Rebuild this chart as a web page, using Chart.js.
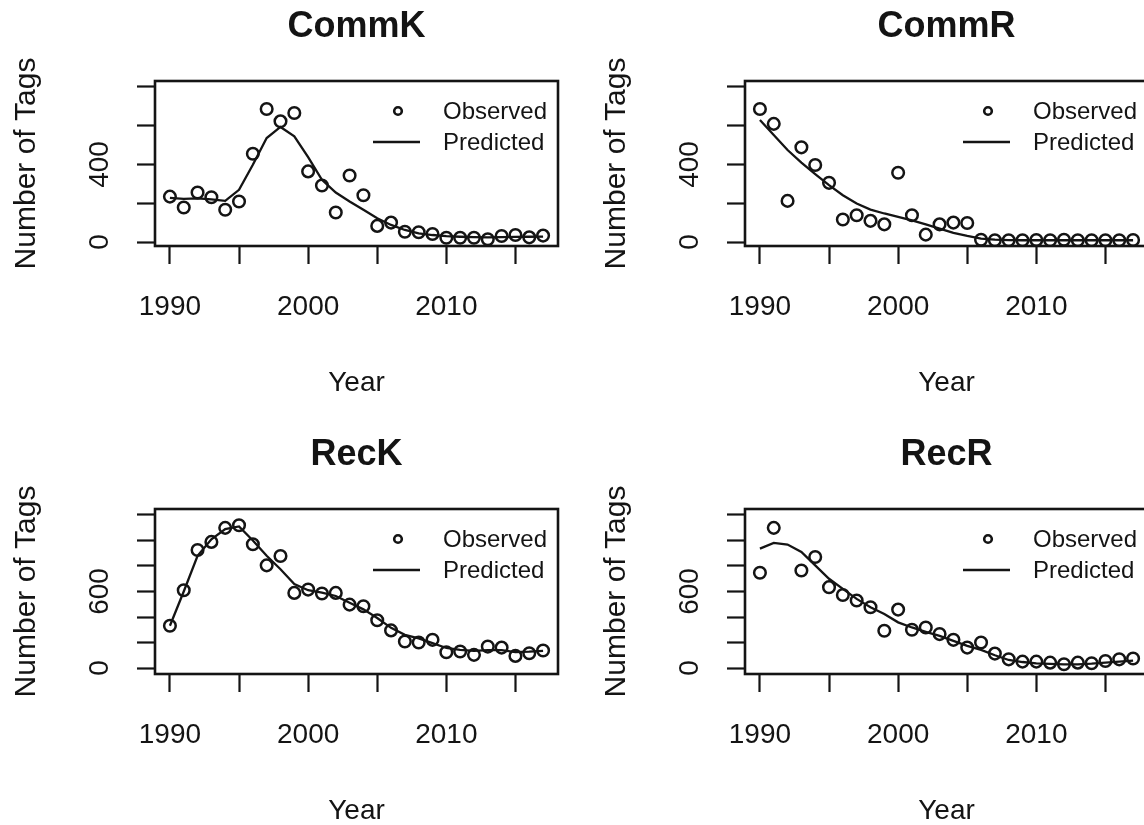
<!DOCTYPE html>
<html>
<head>
<meta charset="utf-8">
<title>Tag returns by fleet</title>
<script src="https://cdn.jsdelivr.net/npm/chart.js@4.4.1/dist/chart.umd.min.js"></script>
<style>
  html, body { margin: 0; padding: 0; background: #fff; width: 1144px; height: 825px; overflow: hidden; position: relative; }
  canvas { position: absolute; }
</style>
</head>
<body>
<canvas id="commK" width="713" height="412" style="left:0px;top:0px"></canvas>
<canvas id="commR" width="713" height="412" style="left:590px;top:0px"></canvas>
<canvas id="recK" width="713" height="412" style="left:0px;top:428px"></canvas>
<canvas id="recR" width="713" height="412" style="left:590px;top:428px"></canvas>
<script>
// Tag returns per year, observed vs model predicted, for each fleet
var years = [1990, 1991, 1992, 1993, 1994, 1995, 1996, 1997, 1998, 1999,
             2000, 2001, 2002, 2003, 2004, 2005, 2006, 2007, 2008, 2009,
             2010, 2011, 2012, 2013, 2014, 2015, 2016, 2017];

var commKObserved  = [234, 178, 255, 231, 166, 209, 455, 686, 622, 665, 364, 291, 152, 343, 241, 83, 100, 53, 50, 41, 22, 22, 22, 14, 31, 36, 24, 33];
var commKPredicted = [228, 222, 225, 220, 212, 269, 398, 536, 593, 545, 438, 321, 255, 209, 166, 122, 88, 62, 45, 36, 30, 27, 25, 24, 25, 26, 27, 28];

var commRObserved  = [686, 609, 212, 488, 397, 305, 116, 138, 109, 91, 357, 138, 38, 91, 100, 98, 12, 9, 9, 9, 10, 9, 12, 9, 9, 9, 9, 10];
var commRPredicted = [629, 552, 474, 409, 350, 293, 241, 198, 167, 147, 129, 112, 91, 69, 47, 31, 17, 12, 10, 9, 9, 9, 9, 9, 9, 9, 9, 9];

var recKObserved  = [331, 610, 926, 989, 1099, 1120, 970, 805, 878, 589, 615, 584, 589, 497, 484, 374, 295, 208, 200, 221, 124, 129, 103, 168, 160, 95, 116, 137];
var recKPredicted = [331, 600, 880, 1010, 1090, 1110, 1000, 880, 775, 658, 610, 592, 565, 512, 460, 392, 315, 260, 232, 195, 157, 143, 135, 140, 140, 125, 128, 135];

var recRObserved  = [747, 1099, null, 765, 871, 634, 573, 529, 476, 292, 458, 300, 318, 266, 221, 160, 200, 113, 68, 50, 50, 42, 29, 42, 37, 55, 68, 74];
var recRPredicted = [936, 981, 968, 910, 805, 700, 621, 542, 476, 423, 358, 318, 284, 252, 213, 174, 142, 100, 63, 47, 37, 32, 29, 29, 34, 42, 50, 58];

// axis ticks and which of them get a label
var yearTicks = [1990, 1995, 2000, 2005, 2010, 2015];
var yearLabels = [1990, 2000, 2010];
var commTicks = [0, 200, 400, 600, 800];
var commLabels = [0, 400];
var recTicks = [0, 200, 400, 600, 800, 1000, 1200];
var recLabels = [0, 600];

var ink = '#141414';
var fontFamily = '"Liberation Sans", Arial, Helvetica, sans-serif';
Chart.defaults.font.family = fontFamily;
Chart.defaults.color = ink;

function toPoints(values) {
    var pts = [];
    for (var i = 0; i < years.length; i++) {
        if (values[i] !== null) {
            pts.push({x: years[i], y: values[i]});
        }
    }
    return pts;
}

// box around the plotting region
var plotFrame = {
    id: 'plotFrame',
    afterDatasetsDraw: function(chart) {
        var a = chart.chartArea;
        var ctx = chart.ctx;
        ctx.save();
        ctx.strokeStyle = ink;
        ctx.lineWidth = 2.6;
        ctx.strokeRect(a.left, a.top, a.right - a.left, a.bottom - a.top);
        ctx.restore();
    }
};

// small key in the top right corner, no border
var cornerLegend = {
    id: 'cornerLegend',
    afterDraw: function(chart) {
        var a = chart.chartArea;
        var ctx = chart.ctx;
        var sets = chart.data.datasets;
        ctx.save();
        ctx.strokeStyle = ink;
        ctx.fillStyle = ink;
        ctx.lineWidth = 2.6;
        ctx.beginPath();
        ctx.arc(a.right - 160, a.top + 30, 3.8, 0, Math.PI * 2);
        ctx.stroke();
        ctx.lineWidth = 2.3;
        ctx.beginPath();
        ctx.moveTo(a.right - 185, a.top + 61);
        ctx.lineTo(a.right - 138, a.top + 61);
        ctx.stroke();
        ctx.font = '24px ' + fontFamily;
        ctx.textBaseline = 'middle';
        ctx.textAlign = 'left';
        ctx.fillText(sets[1].label, a.right - 115, a.top + 31);
        ctx.fillText(sets[0].label, a.right - 115, a.top + 62);
        ctx.restore();
    }
};

function makePanel(id, title, observed, predicted, yTicks, yLabels, yMin, yMax) {
    console.log('Creating ' + title + ' panel..');
    var ctx = document.getElementById(id).getContext('2d');
    return new Chart(ctx, {
        type: 'scatter',
        data: {
            datasets: [{
                label: 'Predicted',
                type: 'line',
                data: toPoints(predicted),
                borderColor: ink,
                borderWidth: 2.3,
                pointRadius: 0,
                tension: 0,
                fill: false,
                yAxisID: 'y'
            }, {
                label: 'Observed',
                data: toPoints(observed),
                pointStyle: 'circle',
                pointRadius: 5.8,
                borderWidth: 2.5,
                borderColor: ink,
                backgroundColor: 'rgba(0,0,0,0)',
                showLine: false,
                yAxisID: 'y'
            }]
        },
        options: {
            responsive: false,
            animation: false,
            devicePixelRatio: 1,
            events: [],
            layout: { padding: 0 },
            plugins: {
                legend: { display: false },
                tooltip: { enabled: false },
                title: {
                    display: true,
                    text: title,
                    color: ink,
                    font: { size: 36, weight: 'bold' },
                    padding: { top: 5.8, bottom: 32 }
                }
            },
            scales: {
                x: {
                    type: 'linear',
                    min: 1988.92,
                    max: 2018.08,
                    afterBuildTicks: function(scale) {
                        scale.ticks = yearTicks.map(function(v) { return {value: v}; });
                    },
                    afterFit: function(scale) { scale.height = 166; },
                    ticks: {
                        autoSkip: false,
                        maxRotation: 0,
                        padding: 26,
                        color: ink,
                        font: { size: 28 },
                        callback: function(v) { return yearLabels.indexOf(v) >= 0 ? String(v) : ''; }
                    },
                    grid: { drawOnChartArea: false, drawTicks: true, tickLength: 18, tickWidth: 2.2, tickColor: ink },
                    border: { display: false },
                    title: { display: true, text: 'Year', color: ink, font: { size: 28 }, padding: { top: 0, bottom: 12 } }
                },
                y: {
                    type: 'linear',
                    position: 'left',
                    min: yMin,
                    max: yMax,
                    afterBuildTicks: function(scale) {
                        scale.ticks = yTicks.map(function(v) { return {value: v}; });
                    },
                    afterFit: function(scale) { scale.width = 155; },
                    ticks: {
                        autoSkip: false,
                        minRotation: 90,
                        maxRotation: 90,
                        crossAlign: 'center',
                        padding: 13,
                        color: ink,
                        font: { size: 28 },
                        callback: function(v) { return yLabels.indexOf(v) >= 0 ? String(v) : ''; }
                    },
                    grid: { drawOnChartArea: false, drawTicks: true, tickLength: 18, tickWidth: 2.2, tickColor: ink },
                    border: { display: false },
                    title: { display: true, text: 'Number of Tags', color: ink, font: { size: 30 }, padding: { top: 9, bottom: 0 } }
                },
                // empty margin on the right so the title sits over the plot
                yPad: {
                    type: 'linear',
                    position: 'right',
                    display: true,
                    afterFit: function(scale) { scale.width = 155; },
                    ticks: { display: false },
                    grid: { display: false },
                    border: { display: false }
                }
            }
        },
        plugins: [plotFrame, cornerLegend]
    });
}

makePanel('commK', 'CommK', commKObserved, commKPredicted, commTicks, commLabels, -20.6, 830);
makePanel('commR', 'CommR', commRObserved, commRPredicted, commTicks, commLabels, -20.6, 830);
makePanel('recK', 'RecK', recKObserved, recKPredicted, recTicks, recLabels, -47, 1247);
makePanel('recR', 'RecR', recRObserved, recRPredicted, recTicks, recLabels, -47, 1247);
</script>
</body>
</html>
